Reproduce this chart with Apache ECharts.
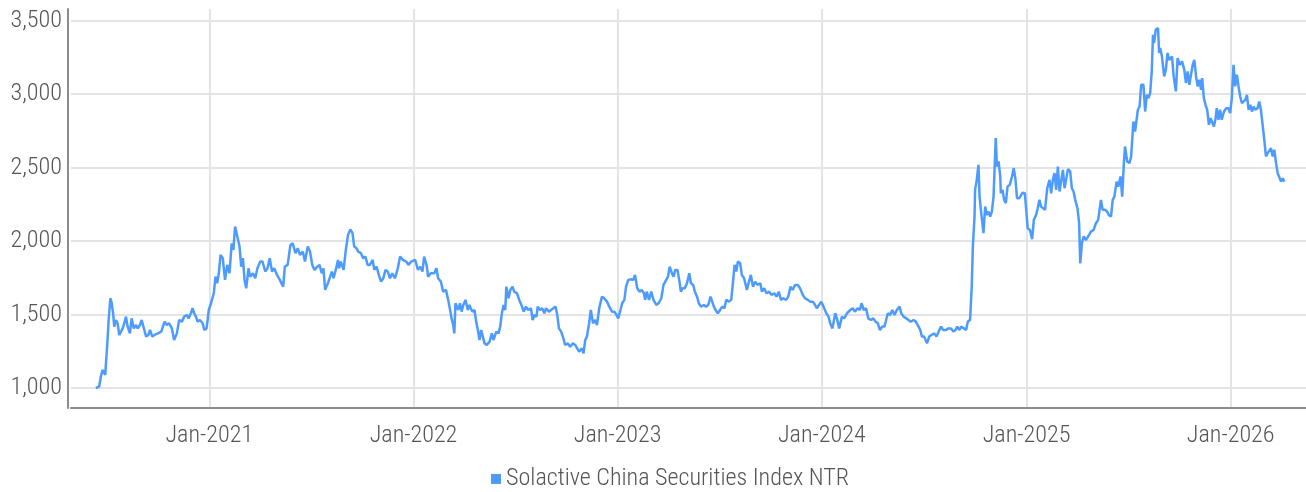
<!DOCTYPE html>
<html><head><meta charset="utf-8">
<script src="https://cdn.jsdelivr.net/npm/echarts@6/dist/echarts.min.js"></script>
<style>html,body{margin:0;padding:0;background:#fff}#c{width:1306px;height:492px}</style>
</head><body><div id="c"></div><script>
// Dates are stored as day offsets from BASE_DATE (2020-01-01)
const BASE_DATE = Date.UTC(2020, 0, 1);
const dayOffsets = [
163,169,172,175,180,181,184,186,189,191,194,196,199,202,205,208,211,214,217,220,224,227,231,235,238,242,245,249,253,257,260,264,268,274,280,286,290,294,299,303,308,312,317,321,326,329,333,336,339,342,345,349,354,357,361,363,365,
369,374,377,380,383,386,390,394,398,402,406,409,412,415,420,423,426,429,432,436,439,444,448,452,457,461,466,470,474,478,482,487,492,498,501,506,511,515,520,524,528,533,537,542,546,550,554,559,563,567,570,573,578,582,585,588,592,596,598,601,606,610,614,618,622,625,629,632,637,641,645,649,653,658,661,665,669,673,677,681,685,689,693,698,703,707,712,718,722,727,
730,734,739,743,747,750,755,757,762,768,772,775,780,784,789,793,797,799,802,804,806,809,811,814,817,820,824,828,831,836,840,843,846,849,852,855,858,862,867,871,874,879,883,886,889,892,895,897,901,904,908,911,916,920,924,928,932,936,941,944,947,951,953,957,961,965,968,973,977,981,985,988,991,995,999,1002,1007,1011,1016,1020,1023,1027,1032,1035,1038,1041,1045,1048,1052,1056,1059,1063,1068,1072,1077,1081,1086,1090,1094,1097,1101,1104,1108,1111,1115,1120,
1124,1127,1131,1135,1139,1143,1145,1148,1152,1156,1160,1165,1169,1174,1178,1181,1186,1189,1193,1196,1199,1203,1206,1209,1212,1216,1220,1224,1227,1231,1234,1238,1241,1245,1250,1254,1258,1262,1265,1268,1271,1275,1279,1283,1287,1290,1295,1299,1302,1305,1308,1311,1315,1318,1322,1327,1330,1334,1338,1342,1346,1351,1354,1358,1362,1367,1371,1376,1380,1384,1388,1392,1397,1401,1405,1409,1413,1418,1422,1427,1431,1436,1440,1445,1449,1452,1455,1460,1464,1469,1473,1476,
1480,1485,1488,1492,1497,1501,1506,1512,1516,1520,1525,1529,1532,1536,1540,1544,1549,1553,1557,1561,1565,1569,1573,1576,1579,1583,1587,1591,1595,1600,1603,1607,1612,1616,1620,1625,1629,1634,1637,1640,1644,1649,1653,1657,1662,1666,1670,1674,1678,1683,1687,1692,1696,1700,1703,1707,1710,1715,1719,1722,1726,1729,1731,1734,1735,1738,1741,1743,1746,1749,1750,1753,1756,1759,1762,1765,1768,1770,1772,1774,1777,1780,1781,1784,1787,1790,1793,1797,1801,1804,1807,1810,1814,
1820,1824,1829,1833,1837,1840,1844,1847,1850,1853,1856,1860,1864,1868,1871,1874,1877,1880,1883,1886,1889,1892,1895,1898,1901,1905,1908,1911,1914,1918,1921,1923,1926,1929,1933,1937,1942,1947,1951,1955,1960,1963,1967,1971,1974,1978,1981,1984,1988,1991,1995,1998,2001,2003,2007,2011,2014,2018,2021,2026,2029,2032,2036,2039,2042,2045,2048,2051,2053,2055,2058,2062,2064,2066,2069,2073,2076,2079,2082,2087,2090,2094,2097,2101,2105,2109,2112,2115,2118,2121,2124,2127,2130,2133,2136,2139,2141,2144,2147,2150,2153,2156,2159,2162,2165,2167,2170,2173,2176,2180,2184,2188,2191,2194,2197,2200,2203,2206,2209,2212,2215,2218,2221,2224,2227,2230,2233,2236,2240,2243,2246,2249,2252,2255,2258,2261,2264,2267,2270,2273,2276,2279,2282,2285,2288
];
const indexValues = [
1000,1009,1077,1123,1089,1157,1327,1463,1611,1588,1509,1418,1463,1441,1361,1350,1406,1441,1486,1418,1372,1474,1406,1429,1406,1429,1463,1406,1350,1361,1395,1350,1361,1372,1384,1452,1429,1441,1406,1327,1372,1463,1452,1486,1497,1474,1509,1543,1509,1486,1452,1463,1441,1395,1406,1463,1531,
1577,1645,1758,1713,1781,1906,1884,1736,1838,1781,1985,1940,2099,2088,1963,1826,1884,1736,1679,1815,1758,1781,1747,1815,1861,1861,1793,1815,1884,1793,1815,1770,1736,1690,1826,1838,1974,1985,1918,1952,1906,1929,1861,1963,1929,1838,1804,1826,1838,1781,1815,1668,1713,1758,1793,1747,1804,1872,1815,1861,1804,1940,2042,2080,2054,1963,1952,1929,1918,1884,1895,1838,1838,1872,1804,1826,1770,1724,1747,1804,1793,1747,1781,1747,1815,1895,1872,1861,1838,1861,
1849,1872,1804,1826,1793,1895,1826,1758,1781,1781,1815,1747,1724,1656,1668,1600,1520,1474,1429,1372,1577,1588,1531,1577,1520,1565,1600,1531,1565,1520,1531,1452,1395,1327,1395,1395,1304,1293,1316,1372,1327,1384,1372,1418,1509,1565,1531,1690,1611,1668,1690,1656,1645,1600,1565,1520,1554,1531,1543,1463,1497,1486,1554,1531,1543,1509,1543,1520,1531,1543,1554,1497,1406,1384,1338,1293,1304,1281,1304,1293,1304,1248,1270,1236,1327,1350,1441,1531,1441,1463,1429,1543,1622,1611,1588,1554,1520,1520,1497,1474,1531,1577,1600,1690,1736,1740,
1736,1770,1679,1656,1668,1645,1600,1656,1600,1656,1600,1565,1577,1611,1702,1713,1758,1826,1781,1758,1804,1804,1736,1656,1679,1679,1713,1781,1713,1702,1656,1622,1577,1554,1565,1554,1565,1622,1611,1554,1531,1509,1531,1554,1543,1600,1588,1600,1713,1838,1793,1861,1849,1770,1747,1668,1713,1770,1690,1724,1702,1713,1656,1679,1645,1656,1634,1645,1622,1656,1600,1611,1600,1622,1690,1668,1702,1702,1679,1634,1611,1600,1588,1588,1565,1543,1531,1588,1554,1509,1486,1441,
1406,1509,1474,1406,1486,1474,1509,1531,1543,1520,1543,1531,1577,1531,1543,1474,1463,1474,1452,1441,1395,1418,1418,1463,1509,1497,1531,1497,1531,1554,1509,1486,1474,1463,1452,1463,1452,1418,1395,1350,1350,1304,1350,1361,1372,1350,1384,1418,1395,1395,1406,1406,1384,1395,1418,1395,1418,1406,1395,1452,1463,1690,1963,2167,2349,2417,2519,2303,2190,2178,2054,2235,2178,2201,2167,2201,2303,2508,2701,2508,2542,2440,2326,2349,2281,2258,2371,2383,2440,2497,2428,2292,2292,
2330,2326,2088,2076,2013,2144,2178,2224,2281,2235,2247,2213,2360,2417,2326,2417,2463,2349,2508,2338,2326,2485,2360,2360,2490,2474,2360,2338,2281,2224,2122,1849,1986,2031,2008,2031,2065,2076,2122,2144,2281,2213,2213,2201,2178,2167,2281,2303,2405,2371,2440,2303,2531,2644,2542,2531,2576,2814,2746,2894,2916,3064,3064,2882,2996,2973,3007,3166,3405,3348,3439,3451,3281,3314,3257,3121,3166,3281,3234,3257,3121,3019,3246,3200,3223,3166,3075,3155,3064,3064,3200,3234,3121,3053,3098,3030,3110,2973,2928,2894,2792,2837,2826,2780,2837,2905,2826,2894,2826,2882,2905,2905,2871,2973,3200,3053,3133,3053,2984,2939,2928,2962,2996,2894,2928,2882,2916,2894,2905,2950,2894,2792,2690,2576,2599,2587,2633,2576,2622,2531,2463,2451,2405,2428,2405
];
const yTickValues = [1000, 1500, 2000, 2500, 3000, 3500];
const xTickYears = [2021, 2022, 2023, 2024, 2025, 2026];
const seriesName = 'Solactive China Securities Index NTR';

const DAY = 86400000;
const toTime = d => BASE_DATE + d * DAY;
const xTicks = xTickYears.map(y => Date.UTC(y, 0, 1));
const seriesData = dayOffsets.map((d, i) => [toTime(d), indexValues[i]]);

const FONT = "'Roboto Condensed', 'Liberation Sans Narrow', 'DejaVu Sans Condensed', sans-serif";
const FW = 300;
// choose a font size so that the legend text has the reference width (~343px)
function fitSize(text, target) {
  const ctx = document.createElement('canvas').getContext('2d');
  ctx.font = FW + ' 100px ' + FONT;
  return Math.round(100 * target / ctx.measureText(text).width * 10) / 10;
}
const FS = fitSize(seriesName, 343);
const TEXT = '#555555';
const GRID = '#e4e4e4';
const AXIS = '#8c8c8c';
const BLUE = '#4D9BFF';
const txt = { fontFamily: FONT, fontSize: FS, fontWeight: FW, color: TEXT };

const chart = echarts.init(document.getElementById('c'));
chart.setOption({
  animation: false,
  backgroundColor: '#fff',
  grid: { left: 71, right: 0, top: 9, bottom: 84, containLabel: false },
  legend: {
    data: [{ name: seriesName, icon: 'rect' }],
    left: 491, top: 479 - FS / 2, padding: 0,
    itemWidth: 10, itemHeight: 10, itemGap: 5,
    textStyle: txt
  },
  xAxis: {
    type: 'value',
    min: toTime(118.7), max: toTime(2326.6),
    axisLine: { show: true, onZero: false, lineStyle: { color: AXIS, width: 2 } },
    axisTick: { show: false, customValues: xTicks },
    axisLabel: Object.assign({
      customValues: xTicks, margin: 28 - FS / 2,
      formatter: v => 'Jan-' + new Date(v).getUTCFullYear()
    }, txt),
    splitLine: { show: true, lineStyle: { color: GRID, width: 2 } }
  },
  yAxis: {
    type: 'value', min: 864, max: 3580, offset: 3,
    axisLine: { show: true, lineStyle: { color: AXIS, width: 2 } },
    axisTick: { show: false, customValues: yTickValues },
    axisLabel: Object.assign({
      customValues: yTickValues, margin: 6,
      formatter: v => v.toLocaleString('en-US')
    }, txt),
    splitLine: { show: true, lineStyle: { color: GRID, width: 2 } }
  },
  series: [{
    name: seriesName, type: 'line', showSymbol: false, symbol: 'none',
    data: seriesData,
    itemStyle: { color: BLUE },
    lineStyle: { color: BLUE, width: 2.5 }
  }]
});
</script></body></html>
